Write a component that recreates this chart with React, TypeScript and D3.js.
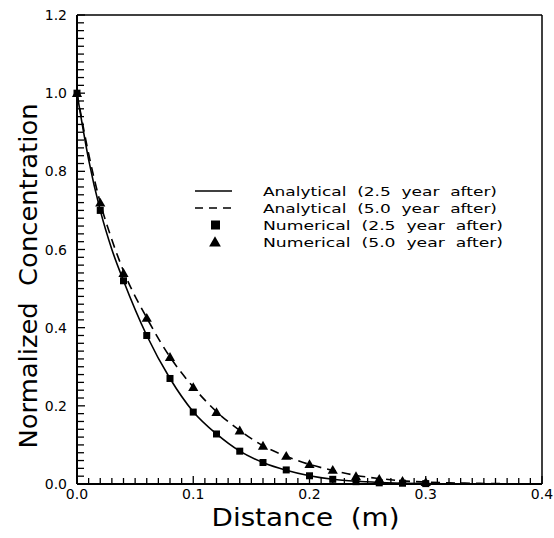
import React from 'react';
import * as d3 from 'd3';

// analytical curves
const anaDistance = [0, 0.01, 0.02, 0.03, 0.04, 0.06, 0.08, 0.1, 0.12, 0.14, 0.16, 0.18, 0.2, 0.22, 0.24, 0.26, 0.28, 0.3, 0.32, 0.34, 0.36, 0.38, 0.4];
const analytical25 = [1.0, 0.83, 0.7, 0.6, 0.52, 0.38, 0.27, 0.185, 0.128, 0.084, 0.055, 0.035, 0.021, 0.012, 0.007, 0.004, 0.002, 0.001, 0.0006, 0.0003, 0.0002, 0.0001, 0];
const analytical50 = [1.0, 0.845, 0.72, 0.625, 0.545, 0.425, 0.325, 0.248, 0.185, 0.137, 0.098, 0.071, 0.05, 0.035, 0.022, 0.014, 0.008, 0.005, 0.003, 0.002, 0.001, 0.0006, 0.0003];

// numerical results
const numDistance = [0, 0.02, 0.04, 0.06, 0.08, 0.1, 0.12, 0.14, 0.16, 0.18, 0.2, 0.22, 0.24, 0.26, 0.28, 0.3];
const numerical25 = [1.0, 0.7, 0.52, 0.38, 0.27, 0.184, 0.128, 0.084, 0.055, 0.036, 0.021, 0.012, 0.006, 0.003, 0.002, 0.001];
const numerical50 = [1.0, 0.72, 0.54, 0.425, 0.325, 0.248, 0.184, 0.137, 0.098, 0.072, 0.051, 0.036, 0.02, 0.013, 0.008, 0.005];

const xTicks = [0, 0.1, 0.2, 0.3, 0.4];
const yTicks = [0, 0.2, 0.4, 0.6, 0.8, 1.0, 1.2];

const legendLabels = [
  'Analytical  (2.5  year  after)',
  'Analytical  (5.0  year  after)',
  'Numerical  (2.5  year  after)',
  'Numerical  (5.0  year  after)',
];

const W = 554;
const H = 538;
const m = { left: 77, right: 12, top: 15, bottom: 54 };
const font = '"DejaVu Sans", sans-serif';

const App = () => {
  const x = d3.scaleLinear().domain([0, 0.4]).range([m.left, W - m.right]);
  const y = d3.scaleLinear().domain([0, 1.2]).range([H - m.bottom, m.top]);

  const line = d3.line<number>()
    .x((_, i) => x(anaDistance[i]))
    .y((d) => y(d))
    .curve(d3.curveMonotoneX);

  const x0 = x(0), x1 = x(0.4), y0 = y(0), y1 = y(1.2);
  const xMinor = d3.range(0, 0.4001, 0.01);
  const yMinor = d3.range(0, 1.2001, 0.02);

  const tri = d3.symbol().type(d3.symbolTriangle).size(45)();
  const triBig = d3.symbol().type(d3.symbolTriangle).size(60)();

  const lx = 195, tx = 263;
  const rows = [191, 208, 225, 242];

  return (
    <svg width={W} height={H} style={{ position: 'absolute', left: 0, top: 0, background: '#fff' }}>
      <g fill="none" stroke="#000">
        <path d={line(analytical25) || ''} strokeWidth={1.6} />
        <path d={line(analytical50) || ''} strokeWidth={1.6} strokeDasharray="9,6" />
      </g>

      {numDistance.map((d, i) => (
        <rect key={'s' + i} x={x(d) - 3.5} y={y(numerical25[i]) - 3.5} width={7} height={7} fill="#000" />
      ))}
      {numDistance.map((d, i) => (
        <path key={'t' + i} d={tri || ''} transform={`translate(${x(d)},${y(numerical50[i]) + 1})`} fill="#000" />
      ))}

      {/* frame */}
      <g stroke="#000" fill="none">
        <line x1={x0} x2={x1} y1={y1} y2={y1} strokeWidth={1.5} />
        <line x1={x1} x2={x1} y1={y1} y2={y0} strokeWidth={1.5} />
        <line x1={x0} x2={x1} y1={y0} y2={y0} strokeWidth={2} />
        <line x1={x0} x2={x0} y1={y1} y2={y0} strokeWidth={2} />
        {xMinor.map((t, i) => (
          <line key={'xt' + i} x1={x(t)} x2={x(t)} y1={y0} y2={y0 - (i % 10 === 0 ? 8 : 6)} strokeWidth={1.3} />
        ))}
        {yMinor.map((t, i) => (
          <line key={'yt' + i} x1={x0} x2={x0 + (i % 10 === 0 ? 8 : 7)} y1={y(t)} y2={y(t)} strokeWidth={1.3} />
        ))}
      </g>

      <g fontFamily={font} fontSize={14} fill="#000">
        {xTicks.map((t) => (
          <text key={'xl' + t} x={x(t)} y={y0 + 15} textAnchor="middle">{t.toFixed(1)}</text>
        ))}
        {yTicks.map((t) => (
          <text key={'yl' + t} x={x0 - 10} y={y(t) + 5} textAnchor="end">{t.toFixed(1)}</text>
        ))}
      </g>

      <text x={(x0 + x1) / 2 - 4} y={H - 12} textAnchor="middle" fontFamily={font} fontSize={24}
        textLength={188} lengthAdjust="spacingAndGlyphs" style={{ whiteSpace: 'pre' }}>
        {'Distance  (m)'}
      </text>
      <text transform={`translate(37,276) rotate(-90)`} textAnchor="middle" fontFamily={font}
        fontSize={25} textLength={345} lengthAdjust="spacingAndGlyphs" style={{ whiteSpace: 'pre' }}>
        {'Normalized  Concentration'}
      </text>

      {/* legend */}
      <g stroke="#000" fill="none" strokeWidth={1.4}>
        <line x1={lx} x2={lx + 37} y1={rows[0]} y2={rows[0]} />
        <line x1={lx} x2={lx + 37} y1={rows[1]} y2={rows[1]} strokeDasharray="8,6" />
      </g>
      <rect x={lx + 16} y={rows[2] - 4.5} width={9} height={9} fill="#000" />
      <path d={triBig || ''} transform={`translate(${lx + 20},${rows[3] + 1})`} fill="#000" />
      <g fontFamily={font} fontSize={13} fill="#000">
        {legendLabels.map((l, i) => (
          <text key={l} x={tx} y={rows[i] + 5} textLength={i < 2 ? 234 : 240} lengthAdjust="spacingAndGlyphs"
            style={{ whiteSpace: 'pre' }}>{l}</text>
        ))}
      </g>
    </svg>
  );
};

export default App;
